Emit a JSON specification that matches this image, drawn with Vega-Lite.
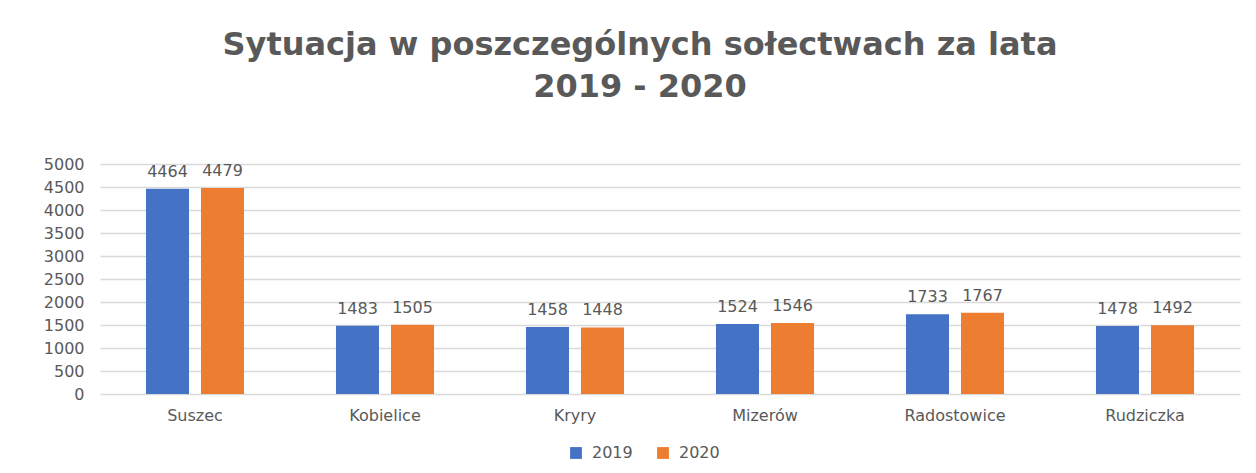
{
  "$schema": "https://vega.github.io/schema/vega-lite/v6.json",
  "autosize": "none",
  "width": 1140,
  "height": 230,
  "padding": {"left": 100, "top": 164, "right": 16, "bottom": 79},
  "background": "white",
  "config": {
    "font": "DejaVu Sans",
    "view": {"stroke": null}
  },
  "title": {
    "text": ["Sytuacja w poszczególnych sołectwach za lata", "2019 - 2020"],
    "fontSize": 32,
    "fontWeight": "bold",
    "color": "#595959",
    "font": "DejaVu Sans",
    "lineHeight": 42,
    "anchor": "middle",
    "dx": -30,
    "offset": 52
  },
  "data": {
    "values": [
      {"solectwo": "Suszec", "rok": "2019", "wartosc": 4464},
      {"solectwo": "Suszec", "rok": "2020", "wartosc": 4479},
      {"solectwo": "Kobielice", "rok": "2019", "wartosc": 1483},
      {"solectwo": "Kobielice", "rok": "2020", "wartosc": 1505},
      {"solectwo": "Kryry", "rok": "2019", "wartosc": 1458},
      {"solectwo": "Kryry", "rok": "2020", "wartosc": 1448},
      {"solectwo": "Mizerów", "rok": "2019", "wartosc": 1524},
      {"solectwo": "Mizerów", "rok": "2020", "wartosc": 1546},
      {"solectwo": "Radostowice", "rok": "2019", "wartosc": 1733},
      {"solectwo": "Radostowice", "rok": "2020", "wartosc": 1767},
      {"solectwo": "Rudziczka", "rok": "2019", "wartosc": 1478},
      {"solectwo": "Rudziczka", "rok": "2020", "wartosc": 1492}
    ]
  },
  "encoding": {
    "x": {
      "field": "solectwo",
      "type": "nominal",
      "sort": null,
      "scale": {"paddingInner": 0.484, "paddingOuter": 0.242},
      "axis": {
        "title": null,
        "labelAngle": 0,
        "labelFontSize": 16,
        "labelColor": "#595959",
        "labelPadding": 13,
        "ticks": false,
        "domain": false
      }
    },
    "xOffset": {
      "field": "rok",
      "type": "nominal",
      "scale": {"paddingInner": 0.218}
    },
    "y": {
      "field": "wartosc",
      "type": "quantitative",
      "scale": {"domain": [0, 5000]},
      "axis": {
        "title": null,
        "format": "d",
        "values": [0, 500, 1000, 1500, 2000, 2500, 3000, 3500, 4000, 4500, 5000],
        "labelFontSize": 16,
        "labelColor": "#595959",
        "labelPadding": 16,
        "ticks": false,
        "domain": false,
        "gridColor": "#D9D9D9",
        "gridWidth": 1.5
      }
    }
  },
  "layer": [
    {
      "mark": {"type": "bar"},
      "encoding": {
        "color": {
          "field": "rok",
          "type": "nominal",
          "scale": {"domain": ["2019", "2020"], "range": ["#4472C4", "#ED7D31"]},
          "legend": {
            "title": null,
            "orient": "none",
            "direction": "horizontal",
            "legendX": 468,
            "legendY": 281,
            "symbolType": "square",
            "symbolSize": 140,
            "symbolStrokeWidth": 0,
            "labelFontSize": 16,
            "labelColor": "#595959",
            "labelOffset": 8,
            "columnPadding": 22
          }
        }
      }
    },
    {
      "mark": {"type": "text", "baseline": "bottom", "dy": -9, "fontSize": 16, "color": "#595959"},
      "encoding": {
        "text": {"field": "wartosc", "type": "quantitative", "format": "d"}
      }
    }
  ]
}
